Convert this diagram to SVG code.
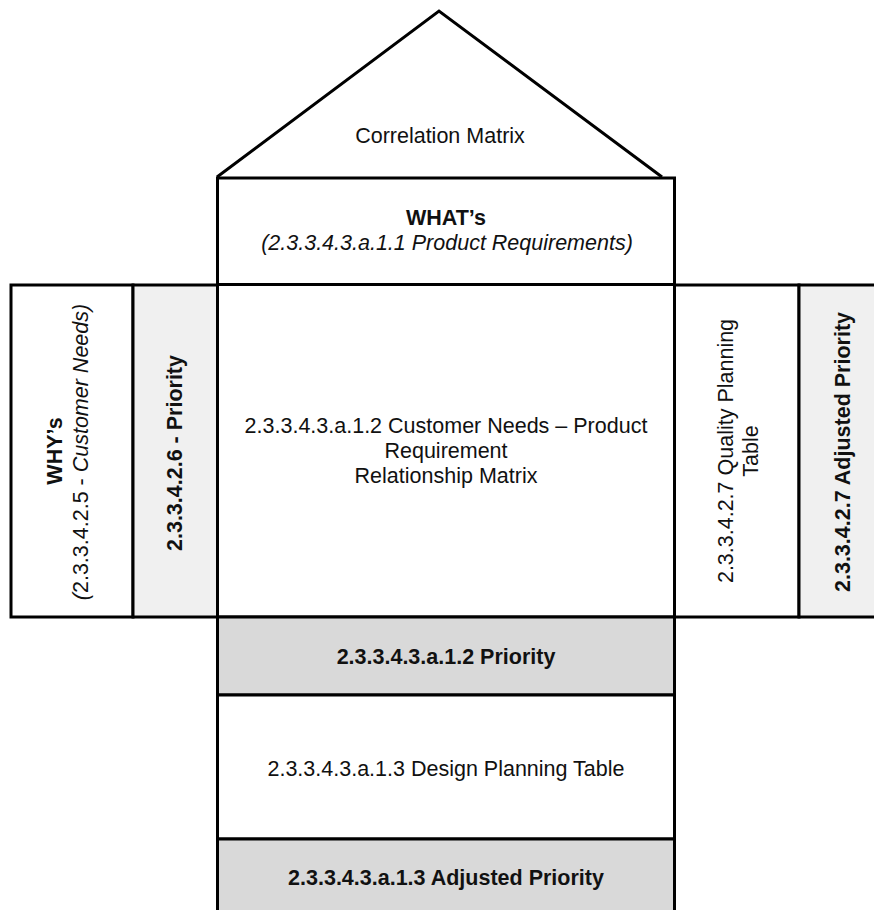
<svg xmlns="http://www.w3.org/2000/svg" width="874" height="910" viewBox="0 0 874 910">
<style>
  .box { stroke: #000; stroke-width: 3; }
  .white { fill: #ffffff; }
  .light { fill: #f0f0f0; }
  .grey { fill: #d9d9d9; }
  text { font-family: "Liberation Sans", Arial, sans-serif; font-size: 21.5px; fill: #111; text-anchor: middle; }
  .b { font-weight: bold; }
  .i { font-style: italic; }
</style>
<rect x="0" y="0" width="874" height="910" fill="#ffffff"/>
<g id="roof">
  <polyline points="217,177 439,11 662,177" fill="none" stroke="#000" stroke-width="3"/>
  <text x="440" y="143">Correlation Matrix</text>
</g>
<g id="whats">
  <rect class="box white" x="217.5" y="178" width="457" height="106.5"/>
  <text class="b" x="446" y="225">WHAT’s</text>
  <text class="i" x="447" y="250">(2.3.3.4.3.a.1.1 Product Requirements)</text>
</g>
<g id="whys">
  <rect class="box white" x="11" y="285" width="122" height="332"/>
  <text class="b" transform="translate(62,451) rotate(-90)">WHY’s</text>
  <text transform="translate(88,452) rotate(-90)"><tspan class="i">(</tspan>2.3.3.4.2.5 - <tspan class="i">Customer Needs)</tspan></text>
</g>
<g id="left-priority">
  <rect class="box light" x="133" y="285" width="84.5" height="332"/>
  <text class="b" transform="translate(182,453) rotate(-90)">2.3.3.4.2.6 - Priority</text>
</g>
<g id="relationship-matrix">
  <rect class="box white" x="217.5" y="284.5" width="457" height="332.5"/>
  <text x="446" y="433">2.3.3.4.3.a.1.2 Customer Needs – Product</text>
  <text x="446" y="458">Requirement</text>
  <text x="446" y="483">Relationship Matrix</text>
</g>
<g id="quality-planning">
  <rect class="box white" x="674.5" y="285" width="124.5" height="332"/>
  <text transform="translate(733,451) rotate(-90)">2.3.3.4.2.7 Quality Planning</text>
  <text transform="translate(758,451) rotate(-90)">Table</text>
</g>
<g id="right-adjusted-priority">
  <rect class="box light" x="799" y="285" width="100" height="332"/>
  <text class="b" transform="translate(850,452) rotate(-90)">2.3.3.4.2.7 Adjusted Priority</text>
</g>
<g id="bottom-priority">
  <rect class="box grey" x="217.5" y="617" width="457" height="78"/>
  <text class="b" x="446" y="664">2.3.3.4.3.a.1.2 Priority</text>
</g>
<g id="design-planning">
  <rect class="box white" x="217.5" y="695" width="457" height="144"/>
  <text x="446" y="776">2.3.3.4.3.a.1.3 Design Planning Table</text>
</g>
<g id="bottom-adjusted-priority">
  <rect class="box grey" x="217.5" y="839" width="457" height="100"/>
  <text class="b" x="446" y="885">2.3.3.4.3.a.1.3 Adjusted Priority</text>
</g>
<g id="connectors"></g>
</svg>
